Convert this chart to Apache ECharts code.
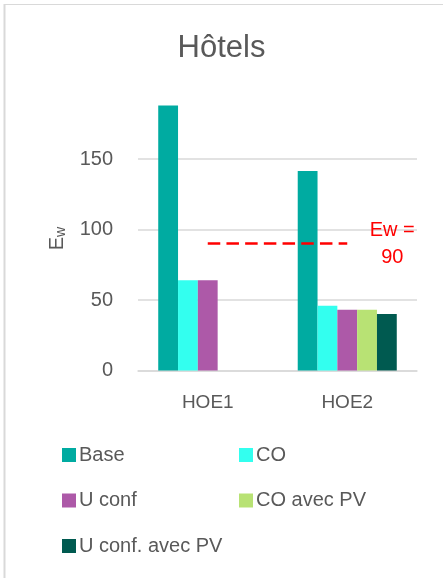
<!DOCTYPE html>
<html>
<head>
<meta charset="utf-8">
<script src="https://cdn.jsdelivr.net/npm/echarts@6/dist/echarts.min.js"></script>
<style>
  html, body { margin: 0; padding: 0; background: #fff; }
  #chart { width: 443px; height: 578px; }
</style>
</head>
<body>
<div id="chart"></div>
<script>
// Buildings compared
const categories = ['HOE1', 'HOE2'];

// Ew per scenario (null = scenario not studied for that building)
const baseValues = [188, 141.5];
const coValues = [64, 46];
const uConfValues = [64, 43];
const coPvValues = [null, 43];
const uConfPvValues = [null, 40];

// Target threshold
const ewTarget = 90;

// Y axis ticks
const yTicks = [0, 50, 100, 150];

const seriesNames = ['Base', 'CO', 'U conf', 'CO avec PV', 'U conf. avec PV'];
const seriesValues = [baseValues, coValues, uConfValues, coPvValues, uConfPvValues];
const seriesColors = ['#00ABA1', '#33FFEF', '#AD59A8', '#B8E274', '#005A50'];

const FONT = 'Liberation Sans';
const GREY = '#595959';
const LINE_GREY = '#D9D9D9';

const chart = echarts.init(document.getElementById('chart'), null, { renderer: 'canvas' });

const series = seriesNames.map((name, i) => ({
  name: name,
  type: 'bar',
  data: seriesValues[i],
  barGap: '0%',
  barCategoryGap: '29%',
  itemStyle: { color: seriesColors[i] },
  emphasis: { disabled: true }
}));

// Dashed target line between the two category centres
// (attached to the middle bar slot so it runs centre to centre)
series[2].markLine = {
  silent: true,
  symbol: ['none', 'none'],
  lineStyle: { color: '#FF0000', type: [12.5, 6.2], width: 2.5 },
  label: {
    show: true,
    position: 'end',
    distance: 45,
    align: 'center',
    verticalAlign: 'middle',
    color: '#FF0000',
    fontFamily: FONT,
    fontSize: 20,
    lineHeight: 27,
    formatter: () => 'Ew =\n' + ewTarget
  },
  data: [[{ coord: [categories[0], ewTarget] }, { coord: [categories[1], ewTarget] }]]
};

chart.setOption({
  animation: false,
  backgroundColor: '#fff',
  title: {
    text: 'Hôtels',
    left: 'center',
    top: 28,
    textStyle: { fontFamily: FONT, fontSize: 31, fontWeight: 'normal', color: GREY, letterSpacing: 2.5 }
  },
  grid: { left: 138, right: 26, top: 88.5, bottom: 207.5, containLabel: false },
  xAxis: {
    type: 'category',
    data: categories,
    axisLine: { lineStyle: { color: LINE_GREY, width: 1.5 } },
    axisTick: { show: false },
    axisLabel: { color: GREY, fontFamily: FONT, fontSize: 19, margin: 23 }
  },
  yAxis: {
    type: 'value',
    min: yTicks[0],
    max: 200,
    interval: yTicks[1] - yTicks[0],
    name: '{e|E}{w|w}',
    nameLocation: 'middle',
    nameGap: 70,
    nameTextStyle: {
      padding: [0, 18, 0, 0],
      rich: {
        e: { fontFamily: FONT, fontSize: 20, color: GREY },
        w: { fontFamily: FONT, fontSize: 14, color: GREY, padding: [8, 0, 0, 0] }
      }
    },
    axisLine: { show: false },
    axisTick: { show: false },
    axisLabel: {
      color: GREY, fontFamily: FONT, fontSize: 20, margin: 25,
      showMaxLabel: false
    },
    splitLine: { lineStyle: { color: LINE_GREY, width: 1.5 }, showMaxLine: false }
  },
  legend: [
    {
      data: [seriesNames[0], seriesNames[2], seriesNames[4]],
      orient: 'vertical',
      left: 57, top: 440,
      itemWidth: 14, itemHeight: 14, itemGap: 25.5,
      icon: 'rect',
      textStyle: { color: GREY, fontFamily: FONT, fontSize: 20, padding: [0, 0, 0, -2] }
    },
    {
      data: [seriesNames[1], seriesNames[3]],
      orient: 'vertical',
      left: 234, top: 440,
      itemWidth: 14, itemHeight: 14, itemGap: 25.5,
      icon: 'rect',
      textStyle: { color: GREY, fontFamily: FONT, fontSize: 20, padding: [0, 0, 0, -2] }
    }
  ],
  graphic: [
    { type: 'line', silent: true, shape: { x1: 4.5, y1: 4, x2: 4.5, y2: 578 }, style: { stroke: LINE_GREY, lineWidth: 2 } },
    { type: 'line', silent: true, shape: { x1: 4, y1: 4.5, x2: 443, y2: 4.5 }, style: { stroke: LINE_GREY, lineWidth: 1 } }
  ],
  series: series
});
</script>
</body>
</html>
